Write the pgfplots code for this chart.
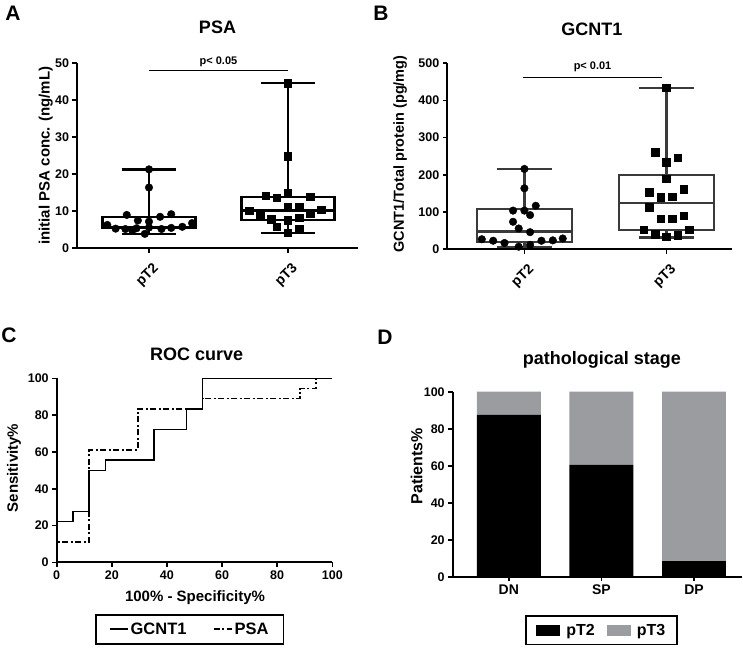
\documentclass[border=0pt]{standalone}
\usepackage{fontspec}
\setmainfont{Liberation Sans}
\usepackage{pgfplots}
\pgfplotsset{compat=1.18}
\definecolor{barg}{HTML}{9B9CA0}
\definecolor{boxg}{HTML}{3A3A3A}
\newcommand{\fs}[1]{\fontsize{#1}{#1}\selectfont\bfseries}
\pgfplotsset{
  prism/.style={
    scale only axis,
    axis lines*=left,
    axis line style={line width=1.7pt, -},
    tick align=outside,
    major tick length=4.5pt,
    tick style={line width=1.6pt, black},
    tick label style={font=\fs{12.5}},
    /pgf/number format/assume math mode=true,
    label style={font=\fs{15}},
    title style={font=\fs{18}, anchor=center},
    clip=false,
  },
  bx/.style={line width=2.3pt, line join=miter, line cap=butt},
}
\begin{document}
\begin{tikzpicture}
\useasboundingbox (0pt,0pt) rectangle (743pt,651pt);
% ---------------- A ----------------
\begin{axis}[prism, at={(77pt,402.7pt)}, anchor=south west,
  width=281pt, height=185.3pt,
  xmin=0.482, xmax=2.504, ymin=0, ymax=50,
  ytick={0,10,20,30,40,50},
  xtick={1,2}, xticklabels={pT2,pT3},
  xticklabel style={xshift=3pt, yshift=-6pt, rotate=45, anchor=north east, font=\fs{14}, inner sep=2pt},
  title={PSA}, title style={at={(axis description cs:0.5,1.162)}},
  ylabel={initial PSA conc. (ng/mL)},
  ylabel style={at={(axis description cs:-0.111,0.5)}, anchor=center},
]
% pT2 box
\addplot[black, bx] coordinates {(1,5.4) (1.335,5.4) (1.335,8.4) (0.665,8.4) (0.665,5.4) (1,5.4)};
\addplot[black, bx] coordinates {(0.665,5.8) (1.335,5.8)};
\addplot[black, bx] coordinates {(1,8.4) (1,21.3)};
\addplot[black, bx] coordinates {(0.805,21.3) (1.195,21.3)};
\addplot[black, bx] coordinates {(1,5.4) (1,3.9)};
\addplot[black, bx] coordinates {(0.805,3.9) (1.195,3.9)};
% pT3 box
\addplot[black, bx] coordinates {(2,7.6) (2.335,7.6) (2.335,13.8) (1.665,13.8) (1.665,7.6) (2,7.6)};
\addplot[black, bx] coordinates {(1.665,10.2) (2.335,10.2)};
\addplot[black, bx] coordinates {(2,13.8) (2,44.6)};
\addplot[black, bx] coordinates {(1.805,44.6) (2.195,44.6)};
\addplot[black, bx] coordinates {(2,7.6) (2,4.2)};
\addplot[black, bx] coordinates {(1.805,4.2) (2.195,4.2)};
\addplot[only marks, mark=*, mark size=3.8pt, black] coordinates {
  (1,21.3) (1,16.4) (0.84,9.0) (0.92,7.5) (1.0,7.2) (1.08,8.5) (1.16,9.2)
  (0.70,6.3) (1.31,6.8) (0.76,5.3) (0.83,5.2) (0.91,5.4) (1.0,5.6) (1.09,5.2)
  (1.16,5.5) (1.24,5.8) (0.97,3.9) (0.88,4.8)};
\addplot[only marks, mark=square*, mark size=3.7pt, black] coordinates {
  (2,44.6) (2,24.8) (2,15.0) (1.84,14.2) (1.92,13.7) (2.16,13.9)
  (1.72,10.1) (2,11.2) (2.08,11.2) (2.24,10.4) (2.16,9.3) (1.80,8.7)
  (1.88,7.9) (2,7.6) (2.08,8.3) (1.92,5.8) (2.08,5.1) (2,4.2)};
\addplot[black, line width=0.9pt] coordinates {(1,47.9) (2,47.9)};
\node[font=\fs{11}] at (axis cs:1.5,50.3) {p< 0.05};
\end{axis}
% ---------------- B ----------------
\begin{axis}[prism, at={(447.3pt,401.7pt)}, anchor=south west,
  width=284.4pt, height=186pt,
  xmin=0.457, xmax=2.46, ymin=0, ymax=500,
  ytick={0,100,200,300,400,500},
  xtick={1,2}, xticklabels={pT2,pT3},
  xticklabel style={xshift=3pt, yshift=-6pt, rotate=45, anchor=north east, font=\fs{14}, inner sep=2pt},
  title={GCNT1}, title style={at={(axis description cs:0.508,1.152)}},
  ylabel={GCNT1/Total protein (pg/mg)},
  ylabel style={at={(axis description cs:-0.166,0.512)}, anchor=center, font=\fs{14.5}},
]
% pT2 box
\addplot[boxg, bx] coordinates {(1,20.5) (1.335,20.5) (1.335,107.5) (0.665,107.5) (0.665,20.5) (1,20.5)};
\addplot[boxg, bx] coordinates {(0.665,48) (1.335,48)};
\addplot[boxg, bx] coordinates {(1,107.5) (1,216)};
\addplot[boxg, bx] coordinates {(0.805,216) (1.195,216)};
\addplot[boxg, bx] coordinates {(1,20.5) (1,6)};
\addplot[boxg, bx] coordinates {(0.805,6) (1.195,6)};
% pT3 box
\addplot[boxg, bx] coordinates {(2,52) (2.335,52) (2.335,200) (1.665,200) (1.665,52) (2,52)};
\addplot[boxg, bx] coordinates {(1.665,124) (2.335,124)};
\addplot[boxg, bx] coordinates {(2,200) (2,434)};
\addplot[boxg, bx] coordinates {(1.805,434) (2.195,434)};
\addplot[boxg, bx] coordinates {(2,52) (2,32)};
\addplot[boxg, bx] coordinates {(1.805,32) (2.195,32)};
\addplot[only marks, mark=*, mark size=3.8pt, black] coordinates {
  (1,216) (1,164) (0.92,104) (1,104) (1.08,117) (1.04,92) (0.92,74)
  (0.96,56) (1.04,46) (0.70,27) (0.78,23) (0.86,17) (0.96,7) (1.04,12)
  (1.12,23) (1.20,24) (1.27,29)};
\addplot[only marks, mark=square*, mark size=3.7pt, black] coordinates {
  (2,434) (1.92,261) (2.08,247) (2,234) (2,189) (1.88,153) (1.96,140)
  (2.04,141) (2.12,162) (1.88,113) (1.96,83) (2.04,83) (2.12,90)
  (1.84,52) (1.92,41) (2,34) (2.08,38) (2.16,52)};
\addplot[black, line width=0.9pt] coordinates {(0.99,462) (1.97,462)};
\node[font=\fs{11}] at (axis cs:1.48,491) {p< 0.01};
\end{axis}
% ---------------- C ----------------
\begin{axis}[prism, at={(56.7pt,88.7pt)}, anchor=south west,
  width=275.6pt, height=184pt,
  xmin=0, xmax=100, ymin=0, ymax=100,
  xtick={0,20,40,60,80,100}, ytick={0,20,40,60,80,100},
  title={ROC curve}, title style={at={(axis description cs:0.508,1.096)}},
  xlabel={100\% - Specificity\%},
  xlabel style={at={(axis description cs:0.502,-0.194)}, anchor=center},
  ylabel={Sensitivity\%},
  ylabel style={at={(axis description cs:-0.155,0.513)}, anchor=center},
  legend style={at={(axis description cs:0.482,-0.281)}, anchor=north,
    legend columns=2, draw=black, line width=1.8pt, font=\fs{16.5},
    inner xsep=13pt, inner ysep=6pt,
    /tikz/every even column/.append style={column sep=24pt}},
  legend image code/.code={\draw[#1, line width=2pt] (0pt,0pt) -- (18pt,0pt);},
]
\addplot[const plot, black, line width=1.3pt] coordinates {
  (0,0) (0,22.22) (5.88,27.78) (11.76,50) (17.65,55.56) (35.29,72.22)
  (47.06,83.33) (52.94,100) (100,100)};
\addlegendentry{GCNT1}
\addplot[const plot, black, line width=1.5pt, dash pattern=on 6pt off 2.5pt on 2pt off 2.5pt] coordinates {
  (0,0) (0,11.11) (11.76,61.11) (29.41,83.33) (52.94,88.89)
  (88.24,94.44) (94.12,100) (100,100)};
\addlegendentry{PSA}
\end{axis}
% ---------------- D ----------------
\begin{axis}[prism, at={(452.7pt,74.3pt)}, anchor=south west,
  width=289pt, height=185pt,
  xmin=-0.606, xmax=2.515, ymin=0, ymax=100,
  ybar stacked, bar width=0.69,
  xtick={0,1,2}, xticklabels={DN,SP,DP},
  xticklabel style={font=\fs{14}},
  ytick={0,20,40,60,80,100},
  title={pathological stage}, title style={at={(axis description cs:0.516,1.139)}},
  ylabel={Patients\%},
  ylabel style={at={(axis description cs:-0.125,0.597)}, anchor=center, font=\fs{16}},
  legend style={at={(axis description cs:0.516,-0.207)}, anchor=north,
    legend columns=2, draw=black, line width=1.8pt, font=\fs{16},
    inner xsep=10pt, inner ysep=6pt,
    /tikz/every odd column/.append style={column sep=4pt},
    /tikz/every even column/.append style={column sep=10pt}},
  legend image code/.code={\fill[#1] (0pt,-5.5pt) rectangle (24pt,5.5pt);},
]
\addplot[fill=black, draw=none] coordinates {(0,87.5) (1,60.5) (2,8.4)};
\addlegendentry{pT2}
\addplot[fill=barg, draw=none] coordinates {(0,12.5) (1,39.5) (2,91.6)};
\addlegendentry{pT3}
\end{axis}
% panel letters
\node[font=\fs{21}] at (13pt,638pt) {A};
\node[font=\fs{21}] at (381pt,638pt) {B};
\node[font=\fs{21}] at (9pt,316pt) {C};
\node[font=\fs{21}] at (385pt,314pt) {D};
\end{tikzpicture}
\end{document}
